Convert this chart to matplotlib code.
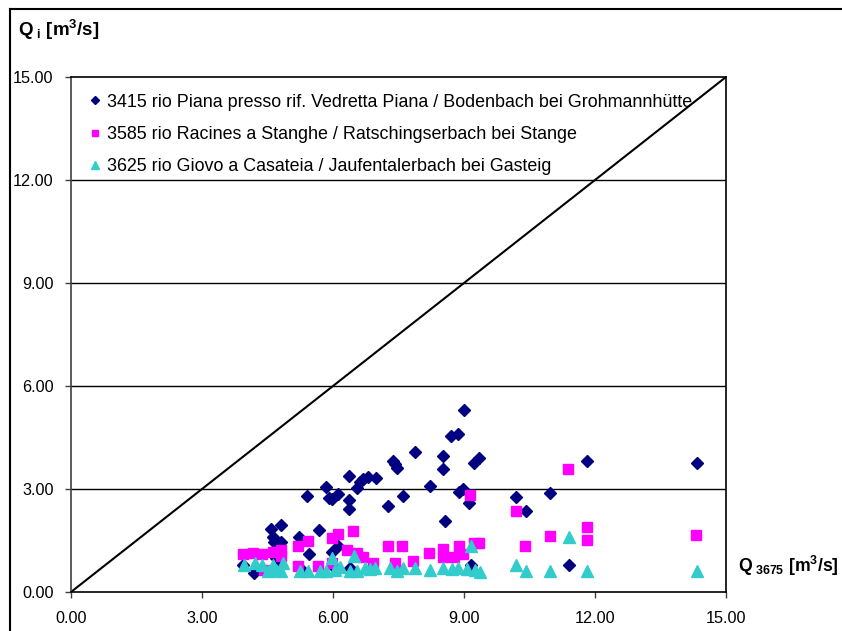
import matplotlib
matplotlib.use("Agg")
import matplotlib.pyplot as plt
from matplotlib.lines import Line2D

plt.rcParams['font.family'] = ['Liberation Sans', 'DejaVu Sans']
plt.rcParams['mathtext.fontset'] = 'custom'
plt.rcParams['mathtext.rm'] = 'Liberation Sans'
plt.rcParams['mathtext.bf'] = 'Liberation Sans:bold'
plt.rcParams['mathtext.it'] = 'Liberation Sans:italic'

# ---- data ----
s1_label = "3415 rio Piana presso rif. Vedretta Piana / Bodenbach bei Grohmannhütte"
s1_x = [3.93, 4.20, 4.57, 4.80, 4.62, 4.65, 4.82, 4.70, 4.75, 5.21, 5.46, 5.41, 5.67, 5.84,
        5.91, 5.97, 6.12, 5.97, 6.12, 6.36, 6.36, 6.36, 6.54, 6.62, 6.69, 6.81, 6.98, 7.27,
        7.37, 7.42, 7.46, 7.61, 7.88, 8.22, 8.52, 8.52, 8.56, 8.70, 8.87, 8.89, 8.98, 9.00,
        9.12, 9.17, 9.23, 9.35, 10.19, 10.42, 10.98, 11.40, 11.81, 14.33, 6.40, 6.00, 5.30]
s1_y = [0.79, 0.55, 1.83, 1.94, 1.61, 1.45, 1.47, 1.00, 0.75, 1.59, 1.12, 2.80, 1.80, 3.05,
        2.75, 2.70, 2.85, 1.17, 1.34, 3.39, 2.68, 2.42, 3.02, 3.21, 3.29, 3.34, 3.33, 2.51,
        3.82, 3.72, 3.60, 2.80, 4.07, 3.09, 3.97, 3.57, 2.08, 4.54, 4.60, 2.92, 2.99, 5.30,
        2.58, 0.79, 3.75, 3.91, 2.76, 2.37, 2.89, 0.79, 3.81, 3.77, 0.70, 0.75, 0.65]

s2_label = "3585 rio Racines a Stanghe / Ratschingserbach bei Stange"
s2_x = [3.95, 4.17, 4.37, 4.43, 4.63, 4.82, 4.80, 5.20, 5.43, 5.20, 5.66, 5.97, 5.97, 6.11,
        6.45, 6.33, 6.54, 6.68, 6.92, 7.25, 7.42, 7.59, 7.84, 8.20, 8.53, 8.53, 8.76, 8.89,
        8.98, 9.14, 9.23, 9.35, 10.18, 10.40, 10.97, 11.38, 11.81, 11.81, 14.31]
s2_y = [1.11, 1.15, 1.11, 0.64, 1.17, 1.22, 1.05, 1.34, 1.49, 0.76, 0.76, 1.58, 0.85, 1.68,
        1.77, 1.22, 1.13, 1.03, 0.85, 1.34, 0.85, 1.34, 0.91, 1.14, 1.24, 1.03, 1.03, 1.34,
        1.11, 2.82, 1.44, 1.44, 2.35, 1.33, 1.63, 3.59, 1.90, 1.52, 1.66]

s3_label = "3625 rio Giovo a Casateia / Jaufentalerbach bei Gasteig"
s3_x = [3.96, 4.21, 4.37, 4.50, 4.63, 4.70, 4.80, 4.86, 5.24, 5.43, 5.70, 5.85, 5.97, 6.04,
        6.16, 6.39, 6.48, 6.54, 6.73, 6.84, 6.96, 7.30, 7.46, 7.61, 7.88, 8.22, 8.53, 8.72,
        8.87, 9.06, 9.17, 9.25, 9.37, 10.19, 10.42, 10.98, 11.40, 11.81, 14.33]
s3_y = [0.80, 0.85, 0.80, 0.62, 0.80, 0.65, 0.62, 0.85, 0.62, 0.62, 0.60, 0.60, 0.98, 0.65,
        0.72, 0.62, 1.06, 0.62, 0.70, 0.66, 0.70, 0.70, 0.62, 0.70, 0.70, 0.65, 0.70, 0.68,
        0.70, 0.68, 1.35, 0.65, 0.57, 0.78, 0.62, 0.62, 1.59, 0.62, 0.62]

diag = [0, 15]
ticks = [0, 3, 6, 9, 12, 15]
tick_labels = ["0.00", "3.00", "6.00", "9.00", "12.00", "15.00"]

# ---- figure ----
W, H = 842, 631
fig = plt.figure(figsize=(W / 100, H / 100), dpi=100)
ax = fig.add_axes([71 / W, (H - 592) / H, (726 - 71) / W, (592 - 77) / H])

for yv in ticks[1:-1]:
    ax.axhline(yv, color='black', lw=1.0, zorder=1)

ax.plot(diag, diag, color='black', lw=1.5, zorder=2)

ax.plot(s1_x, s1_y, linestyle='none', marker='D', ms=6.3, color='#000080',
        mec='#000080', label=s1_label, zorder=3)
ax.plot(s2_x, s2_y, linestyle='none', marker='s', ms=7.0, color='#FF00FF',
        mec='#FF00FF', label=s2_label, zorder=4)
ax.plot(s3_x, s3_y, linestyle='none', marker='^', ms=8.0, color='#33CCCC',
        mec='#33CCCC', label=s3_label, zorder=5)

ax.set_xlim(0, 15)
ax.set_ylim(0, 15)
ax.set_xticks(ticks)
ax.set_yticks(ticks)
ax.set_xticklabels(tick_labels)
ax.set_yticklabels(tick_labels)
ax.tick_params(axis='both', direction='out', length=4.5, width=1, labelsize=11.7,
               color='#404040')
ax.tick_params(axis='y', pad=8)
ax.tick_params(axis='x', pad=9)
for s in ax.spines.values():
    s.set_color('black')
    s.set_linewidth(1.2)
ax.spines['left'].set_color('#404040')

leg = ax.legend(loc='upper left', bbox_to_anchor=(0.003, 0.992), frameon=False,
                fontsize=12.9, labelspacing=0.85, handletextpad=0.1,
                markerscale=0.7, handlelength=1.1, borderaxespad=0.3)

fig.text(18 / W, 1 - 30 / H, r'$\mathbf{Q}_{\ \mathbf{i}}\ \mathbf{[m^{3}/s]}$',
         fontsize=13.5, va='center', ha='left')
fig.text(738 / W, 1 - 566 / H, r'$\mathbf{Q}_{\ \mathbf{3675}}\ \mathbf{[m^{3}/s]}$',
         fontsize=12.7, va='center', ha='left')

# outer frame (top and left edges visible)
fig.add_artist(Line2D([9.5 / W, 9.5 / W], [0, 1 - 8.5 / H], transform=fig.transFigure,
                      color='black', lw=1.5))
fig.add_artist(Line2D([9.5 / W, 1], [1 - 8.5 / H, 1 - 8.5 / H], transform=fig.transFigure,
                      color='black', lw=1.5))

fig.savefig('out.png', dpi=100)
